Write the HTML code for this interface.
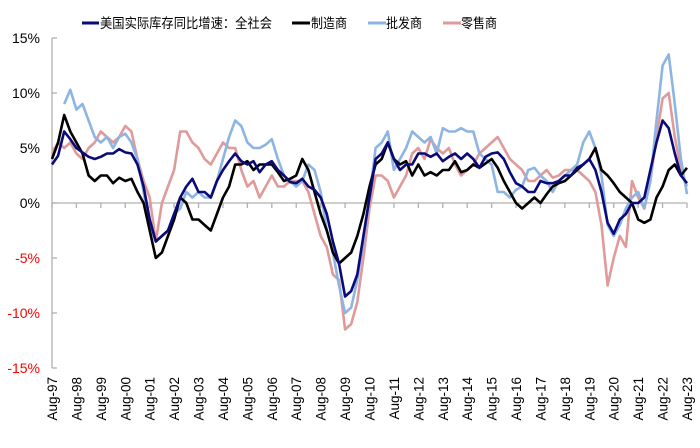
<!DOCTYPE html>
<html><head><meta charset="utf-8"><style>
body{margin:0;background:#fff;width:700px;height:443px;overflow:hidden;font-family:"Liberation Sans","Noto Sans CJK SC",sans-serif}
</style></head><body>
<svg id="chart" width="700" height="443" xmlns="http://www.w3.org/2000/svg">
<g id="legend" font-size="12.3" font-family="Liberation Sans, Noto Sans CJK SC, sans-serif">
<g><line x1="82" y1="23" x2="99" y2="23" stroke="#0a0a78" stroke-width="3"/><text x="100" y="28" textLength="172" lengthAdjust="spacingAndGlyphs" font-size="13.5">美国实际库存同比增速：全社会</text></g>
<g><line x1="292" y1="23" x2="310" y2="23" stroke="#000" stroke-width="3"/><text x="311" y="28" textLength="36" lengthAdjust="spacingAndGlyphs" font-size="13.5">制造商</text></g>
<g><line x1="368" y1="23" x2="386" y2="23" stroke="#8db4e2" stroke-width="3"/><text x="386" y="28" textLength="36" lengthAdjust="spacingAndGlyphs" font-size="13.5">批发商</text></g>
<g><line x1="443" y1="23" x2="461" y2="23" stroke="#e09a9a" stroke-width="3"/><text x="461" y="28" textLength="36" lengthAdjust="spacingAndGlyphs" font-size="13.5">零售商</text></g>
</g>
<g id="axes"></g>
<g id="series"></g>
</svg>
<script>
const yTicks=[15,10,5,0,-5,-10,-15];
const xTickLabels=["Aug-97","Aug-98","Aug-99","Aug-00","Aug-01","Aug-02","Aug-03","Aug-04","Aug-05","Aug-06","Aug-07","Aug-08","Aug-09","Aug-10","Aug-11","Aug-12","Aug-13","Aug-14","Aug-15","Aug-16","Aug-17","Aug-18","Aug-19","Aug-20","Aug-21","Aug-22","Aug-23"];
// quarterly values, starting Aug-97
const totalSeries=[3.5,4.3,6.5,5.8,5.0,4.6,4.2,4.0,4.2,4.5,4.5,4.9,4.6,4.5,3.5,1.5,-1.5,-3.5,-3.0,-2.5,-1.0,0.5,1.5,2.2,1.0,1.0,0.5,2.0,3.0,3.8,4.5,3.8,3.5,3.8,2.8,3.5,3.8,3.0,2.5,1.9,1.8,2.2,1.5,1.2,0.5,-1.0,-3.5,-5.5,-8.5,-8.0,-6.5,-3.0,0.5,4.0,4.5,5.5,4.0,3.0,3.5,3.5,4.5,4.5,4.2,4.5,3.8,4.2,4.5,4.0,4.5,4.0,3.2,4.2,4.5,4.6,4.0,2.8,1.8,1.5,1.0,1.0,2.0,1.8,1.8,2.0,2.5,2.5,3.2,3.5,4.0,3.0,1.0,-1.8,-2.8,-1.5,-1.0,0,0,0.5,3.0,5.5,7.5,6.8,4.5,2.5,1.8];
const manufacturerSeries=[4.0,5.5,8.0,6.5,5.5,4.5,2.5,2.0,2.5,2.5,1.8,2.3,2.0,2.2,1.0,0,-2.5,-5.0,-4.5,-3.0,-1.5,0.5,0.0,-1.5,-1.5,-2.0,-2.5,-1.0,0.5,1.5,3.5,3.5,3.8,3.0,3.5,3.5,3.5,2.8,2.0,2.2,2.5,4.0,3.0,1.0,-1.0,-2.5,-4.5,-5.5,-5.0,-4.5,-3.0,-1.0,1.5,3.5,4.0,5.5,4.0,3.5,3.8,2.5,3.5,2.5,2.8,2.5,3.0,3.0,3.8,2.8,3.0,3.5,3.2,3.6,4.0,3.2,2.0,1.0,0.0,-0.5,0.0,0.5,0.0,0.8,1.5,1.8,2.0,2.5,3.0,3.5,4.0,5.0,3.0,2.5,1.8,1.0,0.5,0,-1.5,-1.8,-1.5,0.5,1.5,3.0,3.5,2.5,3.2];
const wholesaleSeries=[null,null,9.0,10.3,8.5,9.0,7.5,6.0,5.5,6.0,5.0,6.0,6.3,5.5,4.0,1.0,-2.0,-3.5,-3.0,-2.5,-1.0,-0.5,1.0,0.5,1.0,0.5,0.5,2.0,4.0,6.0,7.5,7.0,5.5,5.0,5.0,5.3,5.8,4.0,2.5,2.0,1.5,2.0,3.5,3.0,1.0,-2.5,-4.5,-7.5,-10.0,-9.5,-7.0,-3.5,0.5,5.0,5.5,6.5,3.0,4.0,5.0,6.5,6.0,5.5,6.0,4.5,6.8,6.5,6.5,6.8,6.5,6.5,4.5,4.0,3.5,1.0,1.0,0.5,1.2,1.5,3.0,3.2,2.5,2.0,1.0,2.0,2.5,3.0,3.5,5.5,6.5,5.0,2.5,-2.0,-3.0,-2.0,-0.5,0.5,1.0,-0.5,2.0,7.5,12.5,13.5,9.0,4.0,0.8];
const retailSeries=[4.5,5.5,5.0,5.5,4.5,4.0,5.0,5.5,6.5,6.0,5.5,6.0,7.0,6.5,4.0,2.0,0.5,-3.5,0,1.5,3.0,6.5,6.5,5.5,5.0,4.0,3.5,4.5,5.5,5.0,5.0,3.0,1.5,2.0,0.5,1.5,2.5,1.5,1.5,2.0,2.0,2.0,1.0,-1.0,-3.0,-4.0,-6.5,-7.0,-11.5,-11.0,-9.0,-5.0,-0.5,2.5,2.5,2.0,0.5,1.5,2.5,4.5,5.0,4.0,5.8,5.0,4.5,5.0,3.5,2.5,3.0,3.5,4.5,5.0,5.5,6.0,5.0,4.0,3.5,3.0,2.0,2.0,2.5,3.0,2.3,2.5,3.0,3.0,3.0,2.5,2.0,1.0,-2.0,-7.5,-5.0,-3.0,-4.0,2.0,0.5,-0.5,2.0,6.0,9.5,10.0,6.0,3.0,1.5];

const NS='http://www.w3.org/2000/svg';
const x0=52,x1=687,yTop=38,yBot=368,vMax=15,vMin=-15,nYears=26;
function xScale(i){return x0+(i/4)*(x1-x0)/nYears;}
function yScale(v){return yTop+(vMax-v)*(yBot-yTop)/(vMax-vMin);}
const axes=document.getElementById('axes');
function mk(tag,attrs,parent){const e=document.createElementNS(NS,tag);for(const k in attrs)e.setAttribute(k,attrs[k]);parent.appendChild(e);return e;}
const yAxis=mk('line',{x1:x0,y1:yTop,x2:x0,y2:yBot,stroke:'#b0b0b0','stroke-width':1.3},axes);


yTicks.forEach(v=>{
  const t=mk('line',{x1:x0,y1:yScale(v),x2:x0+5,y2:yScale(v),stroke:'#b0b0b0','stroke-width':1.3},axes);
  
  
  const lb=mk('text',{x:40,y:yScale(v)+5,'text-anchor':'end','font-size':14,fill:v<0?'#ff0000':'#000'},axes);
  lb.textContent=v+'%';
  
  
});
const zl=mk('line',{x1:x0,y1:yScale(0),x2:x1,y2:yScale(0),stroke:'#b0b0b0','stroke-width':1.3},axes);


xTickLabels.forEach((s,i)=>{
  const x=x0+i*(x1-x0)/nYears;
  const t=mk('line',{x1:x,y1:yScale(0),x2:x,y2:yScale(0)+5,stroke:'#b0b0b0','stroke-width':1.3},axes);
  
  
  const lb=mk('text',{x:0,y:0,'text-anchor':'end','font-size':13.5,transform:`translate(${x+5},377) rotate(-90)`},axes);
  lb.textContent=s;
  
  
});
const seriesG=document.getElementById('series');
function draw(arr,color,name){
  let d='',pen=false;
  arr.forEach((v,i)=>{if(v===null){pen=false;return;}d+=(pen?'L':'M')+xScale(i).toFixed(1)+','+yScale(v).toFixed(1);pen=true;});
  const p=mk('path',{d:d,fill:'none',stroke:color,'stroke-width':2.6,'stroke-linejoin':'round'},seriesG);
  
  
}
draw(retailSeries,'#e09a9a','retail-line');
draw(wholesaleSeries,'#8db4e2','wholesale-line');
draw(manufacturerSeries,'#000000','manufacturer-line');
draw(totalSeries,'#0a0a78','total-line');
</script>
</body></html>
